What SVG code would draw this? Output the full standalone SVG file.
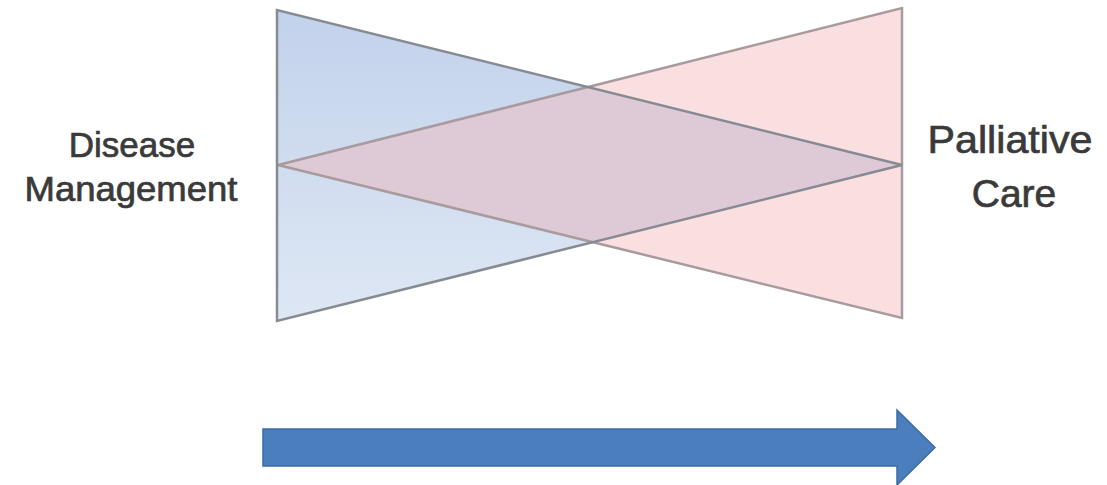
<svg xmlns="http://www.w3.org/2000/svg" width="1107" height="485" viewBox="0 0 1107 485">
  <defs>
    <linearGradient id="blueFill" x1="0" y1="0" x2="0" y2="1">
      <stop offset="0" stop-color="#c2d2eb"/>
      <stop offset="1" stop-color="#dee7f4"/>
    </linearGradient>
    <style>
      .label { font-family: "Liberation Sans", Arial, sans-serif; fill: #3a3a3a; stroke: #3a3a3a; stroke-width: 0.7; text-anchor: middle; }
      .edge-blue { fill: none; stroke: #858a93; stroke-width: 2.5; stroke-linejoin: miter; }
      .edge-pink { fill: none; stroke: #a99a9e; stroke-width: 2.5; stroke-linejoin: miter; }
    </style>
  </defs>

  <rect width="1107" height="485" fill="#ffffff"/>

  <!-- disease management wedge: wide on the left, narrowing to the right -->
  <g id="disease-wedge">
    <polygon points="277,10 277,321 902,165" fill="url(#blueFill)"/>
  </g>

  <!-- palliative care wedge: wide on the right, narrowing to the left -->
  <g id="palliative-wedge">
    <polygon points="902,8 902,318 278,165" fill="#fadfe0"/>
  </g>

  <!-- overlap of the two wedges -->
  <g id="overlap">
    <polygon points="278,165 587,87 902,165 590,242" fill="#decad6"/>
  </g>

  <!-- outlines -->
  <g id="outlines">
    <polygon class="edge-pink" points="902,8 902,318 278,165"/>
    <polygon class="edge-blue" points="277,10 277,321 902,165"/>
  </g>

  <g id="label-disease">
    <text class="label" x="132" y="157" font-size="35">Disease</text>
    <text class="label" x="131" y="201" font-size="35" textLength="213" lengthAdjust="spacingAndGlyphs">Management</text>
  </g>

  <g id="label-palliative">
    <text class="label" x="1010" y="153" font-size="39" textLength="165" lengthAdjust="spacingAndGlyphs">Palliative</text>
    <text class="label" x="1014" y="207" font-size="39">Care</text>
  </g>

  <!-- timeline arrow -->
  <g id="timeline-arrow">
    <path d="M263,429 L897,429 L897,410 L935,447.5 L897,485 L897,466 L263,466 Z" fill="#4a7ebc" stroke="#3d6ba5" stroke-width="1.5" stroke-linejoin="miter"/>
  </g>
</svg>
